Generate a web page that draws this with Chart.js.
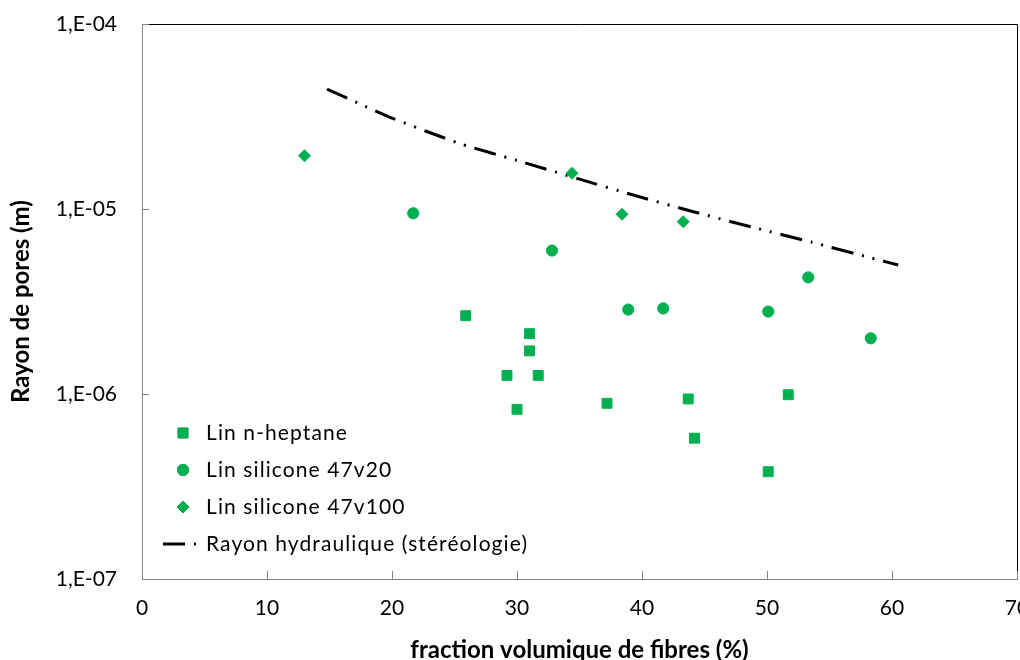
<!DOCTYPE html>
<html><head><meta charset="utf-8">
<script src="https://cdn.jsdelivr.net/npm/chart.js@4.4.1/dist/chart.umd.min.js"></script>
<style>
html,body{margin:0;padding:0;background:#fff;overflow:hidden;width:1020px;height:660px;}
#wrap{position:absolute;left:0;top:0;width:1040px;height:680px;}
</style></head><body>
<div id="wrap"><canvas id="c" width="1040" height="680"></canvas></div>
<script>
// ---- data ----
const heptaneX = [25.9, 31.0, 31.0, 29.2, 31.7, 30.0, 37.2, 43.7, 44.2, 51.7, 50.1];
const heptaneY = [2.65e-6, 2.12e-6, 1.71e-6, 1.26e-6, 1.26e-6, 8.26e-7, 8.91e-7, 9.40e-7, 5.77e-7, 9.91e-7, 3.80e-7];

const sil20X = [21.7, 32.8, 38.9, 41.7, 50.1, 53.3, 58.3];
const sil20Y = [9.48e-6, 5.96e-6, 2.86e-6, 2.90e-6, 2.79e-6, 4.27e-6, 2.00e-6];

const sil100X = [13.0, 34.4, 38.4, 43.3];
const sil100Y = [1.94e-5, 1.56e-5, 9.36e-6, 8.53e-6];

const hydroX = [14.8, 17.5, 20, 25.5, 30, 35, 39.3, 44.1, 49, 53.6, 58.4, 60.5];
const hydroY = [4.45e-5, 3.68e-5, 3.1e-5, 2.25e-5, 1.83e-5, 1.45e-5, 1.19e-5, 9.67e-6, 7.92e-6, 6.61e-6, 5.42e-6, 4.98e-6];

const seriesLabels = ['Lin n-heptane', 'Lin silicone 47v20', 'Lin silicone 47v100', 'Rayon hydraulique (stéréologie)'];
const yTickValues = [1e-7, 1e-6, 1e-5, 1e-4];
const yTickLabels = ['1,E-07', '1,E-06', '1,E-05', '1,E-04'];
const xTickValues = [0, 10, 20, 30, 40, 50, 60, 70];
const xTitle = 'fraction volumique de fibres (%)';
const yTitle = 'Rayon de pores (m)';

// ---- styles ----
const GREEN = '#00B050';
const AXIS_GRAY = '#868686';
const FONT = 'Lato, "Open Sans", sans-serif';

function pts(xs, ys) { return xs.map((x, i) => ({x: x, y: ys[i]})); }

const framePlugin = {
  id: 'frameAndLegend',
  afterDraw(chart) {
    const {ctx, chartArea: a, scales} = chart;
    ctx.save();
    // top and right border (black)
    ctx.strokeStyle = '#000';
    ctx.lineWidth = 1;
    ctx.beginPath();
    ctx.moveTo(a.left, Math.round(a.top) + 0.5);
    ctx.lineTo(Math.round(a.right) + 0.5, Math.round(a.top) + 0.5);
    ctx.lineTo(Math.round(a.right) + 0.5, a.bottom);
    ctx.stroke();
    // inside tick marks
    ctx.strokeStyle = AXIS_GRAY;
    ctx.beginPath();
    yTickValues.forEach(v => {
      const y = Math.round(scales.y.getPixelForValue(v)) + 0.5;
      ctx.moveTo(a.left, y); ctx.lineTo(a.left + 7, y);
    });
    xTickValues.forEach(v => {
      const x = Math.round(scales.x.getPixelForValue(v)) + 0.5;
      ctx.moveTo(x, a.bottom); ctx.lineTo(x, a.bottom - 8);
    });
    ctx.stroke();
    // legend
    const lx = 183, ly0 = 433, step = 37;
    ctx.font = '21px ' + FONT;
    if ('letterSpacing' in ctx) ctx.letterSpacing = '1.1px';
    ctx.textBaseline = 'middle';
    ctx.textAlign = 'left';
    chart.data.datasets.forEach((ds, i) => {
      const y = ly0 + i * step;
      if (ds.showLine) {
        ctx.save();
        ctx.strokeStyle = ds.borderColor;
        ctx.lineWidth = ds.borderWidth;
        ctx.setLineDash(ds.borderDash);
        ctx.beginPath();
        ctx.moveTo(163, y); ctx.lineTo(203, y);
        ctx.stroke();
        ctx.restore();
      } else {
        Chart.helpers.drawPoint(ctx, {
          pointStyle: ds.pointStyle, radius: ds.pointRadius, rotation: 0,
          borderWidth: ds.pointBorderWidth
        }, lx, y);
        ctx.fillStyle = ds.pointBackgroundColor;
        ctx.strokeStyle = ds.pointBorderColor;
        ctx.lineWidth = ds.pointBorderWidth;
        ctx.fill(); ctx.stroke();
      }
      ctx.fillStyle = '#000';
      ctx.fillText(ds.label, 206, y);
    });
    ctx.restore();
  }
};

const marker = (style, r) => ({
  pointStyle: style, pointRadius: r, pointHoverRadius: r,
  pointBackgroundColor: GREEN, pointBorderColor: GREEN, pointBorderWidth: 1,
  backgroundColor: GREEN, borderColor: GREEN, showLine: false
});

const hiddenTicks = len => ({display: true, drawOnChartArea: false, drawTicks: true, tickLength: len, tickColor: 'rgba(0,0,0,0)'});

new Chart(document.getElementById('c'), {
  type: 'scatter',
  data: {
    datasets: [
      Object.assign({label: seriesLabels[0], data: pts(heptaneX, heptaneY)}, marker('rect', 7)),
      Object.assign({label: seriesLabels[1], data: pts(sil20X, sil20Y)}, marker('circle', 5.6)),
      Object.assign({label: seriesLabels[2], data: pts(sil100X, sil100Y)}, marker('rectRot', 6)),
      {
        label: seriesLabels[3], data: pts(hydroX, hydroY), showLine: true,
        borderColor: '#000', backgroundColor: '#000', borderWidth: 3,
        borderDash: [22, 9, 2, 9, 2, 9], pointRadius: 0, pointHoverRadius: 0,
        fill: false, tension: 0.2, borderCapStyle: 'butt'
      }
    ]
  },
  options: {
    responsive: false, animation: false, devicePixelRatio: 1,
    layout: {padding: {left: 0, top: 24, right: 23, bottom: 0}},
    plugins: {legend: {display: false}, tooltip: {enabled: false}},
    scales: {
      x: {
        type: 'linear', min: 0, max: 70,
        afterBuildTicks: s => { s.ticks = xTickValues.map(v => ({value: v})); },
        afterFit: s => { s.height = 101; },
        grid: hiddenTicks(17),
        border: {display: true, color: AXIS_GRAY, width: 1},
        ticks: {padding: 0, color: '#000', font: {family: FONT, size: 21}, maxRotation: 0},
        title: {display: true, text: xTitle, color: '#000', font: {family: FONT, size: 24, weight: 'bold'}, padding: {top: 0, bottom: 15}}
      },
      y: {
        type: 'logarithmic', min: 1e-7, max: 1e-4,
        afterBuildTicks: s => { s.ticks = yTickValues.map(v => ({value: v})); },
        afterFit: s => { s.width = 142; },
        grid: hiddenTicks(25),
        border: {display: true, color: AXIS_GRAY, width: 1},
        ticks: {
          padding: 0, color: '#000', font: {family: FONT, size: 21},
          callback: v => {
            const i = yTickValues.findIndex(t => Math.abs(Math.log10(t) - Math.log10(v)) < 1e-6);
            return i >= 0 ? yTickLabels[i] : '';
          }
        },
        title: {display: true, text: yTitle, color: '#000', font: {family: FONT, size: 24, weight: 'bold'}, padding: {top: 7, bottom: 0}}
      }
    }
  },
  plugins: [framePlugin]
});
</script>
</body></html>
